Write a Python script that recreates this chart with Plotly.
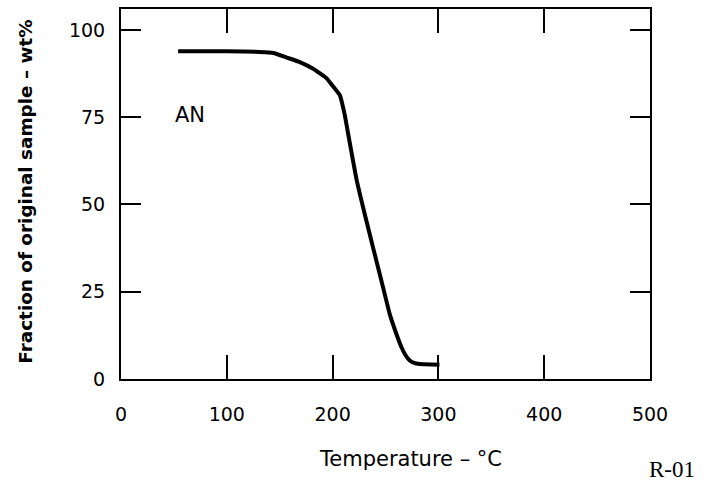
import plotly.graph_objects as go

temperature_c = [54, 100, 131, 144, 156.5, 169, 181.6, 194.2, 200, 206.8, 211.5, 216.2,
                 222.6, 230.4, 238.2, 246.2, 254.0, 260.3, 265.1, 269, 272.9, 277, 282.3, 301]
fraction_wt = [93.9, 93.9, 93.7, 93.4, 92.1, 90.8, 88.9, 86.2, 84.0, 81.3, 75.6, 67.7,
               57.2, 47.2, 37.7, 28.1, 18.6, 12.9, 9.1, 6.8, 5.3, 4.6, 4.3, 4.1]

x_ticks = [0, 100, 200, 300, 400, 500]
y_ticks = [0, 25, 50, 75, 100]

fig = go.Figure()
fig.add_trace(go.Scatter(x=temperature_c, y=fraction_wt, mode="lines",
                         line=dict(color="black", width=4, shape="spline", smoothing=0.4),
                         showlegend=False, hoverinfo="skip"))

tickfont = dict(family="DejaVu Sans", size=19, color="black")
fig.update_xaxes(range=[0, 500], tickvals=x_ticks, ticktext=[str(v) for v in x_ticks],
                 ticks="inside", ticklen=24, tickwidth=1.5, tickcolor="black",
                 showline=True, linewidth=2, linecolor="black", mirror="ticks",
                 showgrid=False, zeroline=False, tickfont=tickfont, ticklabelstandoff=17)
fig.update_yaxes(range=[0, 106], tickvals=y_ticks, ticktext=[str(v) for v in y_ticks],
                 ticks="inside", ticklen=20, tickwidth=2, tickcolor="black",
                 showline=True, linewidth=2, linecolor="black", mirror="ticks",
                 showgrid=False, zeroline=False, tickfont=tickfont, ticklabelstandoff=10)

fig.add_annotation(x=65, y=75.5, xref="x", yref="y", text="AN", showarrow=False,
                   font=dict(family="DejaVu Sans", size=21, color="black"))
fig.add_annotation(x=0.547, y=-0.217, xref="paper", yref="paper", text="Temperature – °C",
                   showarrow=False, xanchor="center", yanchor="middle",
                   font=dict(family="DejaVu Sans", size=21, color="black"))
fig.add_annotation(x=-0.181, y=0.507, xref="paper", yref="paper",
                   text="<b>Fraction of original sample – wt%</b>", textangle=-90,
                   showarrow=False, xanchor="center", yanchor="middle",
                   font=dict(family="DejaVu Sans", size=18.4, color="black"))
fig.add_annotation(x=1.0425, y=-0.245, xref="paper", yref="paper", text="R-01",
                   showarrow=False, xanchor="center", yanchor="middle",
                   font=dict(family="Liberation Serif", size=23, color="black"))

fig.update_layout(width=706, height=483, margin=dict(l=121, r=56, t=7, b=104),
                  plot_bgcolor="white", paper_bgcolor="white")

fig.write_html("out.html", config={"displayModeBar": False},
               post_script="document.body.style.margin='0';")
